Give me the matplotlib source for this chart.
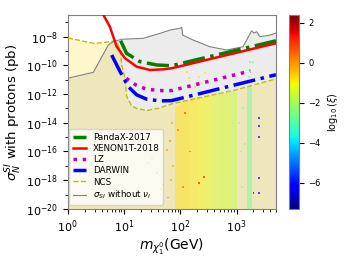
import numpy as np
import matplotlib
matplotlib.use('Agg')
import matplotlib.pyplot as plt
from matplotlib.colors import Normalize
from matplotlib.cm import ScalarMappable

# limit curves: mass in GeV, cross section as log10(sigma / pb)
pandax_m = [8.7, 11.1, 19.3, 38, 70, 5000]
pandax_s = [-8.29, -9.17, -9.75, -9.98, -10.03, -8.3]

xenon_m = [4.0, 4.3, 5.6, 7.4, 10.4, 16.8, 29, 50, 70, 5000]
xenon_s = [-6.2, -6.5, -7.32, -8.7, -9.51, -10.1, -10.33, -10.28, -10.21, -8.47]

lz_m = [11, 13.7, 16.8, 25.3, 43.6, 70, 1750]
lz_s = [-10.9, -11.2, -11.4, -11.67, -11.76, -11.76, -10.4]

darwin_m = [6.04, 8.5, 11.9, 16.8, 25.3, 43.6, 70, 5000]
darwin_s = [-9.29, -10.44, -11.49, -12.06, -12.36, -12.48, -12.46, -10.66]

ncs_m = [1, 2.85, 4.3, 6.9, 7.9, 8.6, 9.1, 10.4, 11.1, 13.7, 16.8, 25, 40, 70, 1000, 5000]
ncs_s = [-8.1, -8.47, -8.43, -8.3, -8.6, -9.0, -10.0, -10.9, -12.15, -12.84, -13.0, -13.15,
         -13.0, -12.69, -11.7, -10.95]

nonu_m = [1, 2.85, 5.26, 6.46, 9.1, 22, 43.6, 65.6, 98.8, 106, 110, 168, 337, 667, 1300,
          1513, 1853, 2037, 2276, 2606, 3918, 5000]
nonu_s = [-10.9, -10.49, -8.59, -8.36, -8.19, -8.125, -7.78, -7.55, -7.43, -7.36, -7.9,
          -8.24, -8.71, -8.94, -8.71, -8.24, -7.6, -7.76, -7.67, -8.01, -7.9, -7.76]

# dense scan points, drawn as columns: edges in GeV, top log10(sigma), log10(xi)
cloud_left = [80, 100, 140, 200, 280, 400, 560, 800, 1550]
cloud_right = [100, 140, 200, 280, 400, 560, 800, 1000, 1850]
cloud_top = [-12.8, -12.5, -12.3, -12.2, -12.1, -12.0, -11.9, -11.8, -11.5]
cloud_xi = [-0.8, -0.8, -0.9, -1.0, -1.2, -1.4, -1.5, -1.7, -2.7]

# sparse scan points: mass, log10(sigma), log10(xi)
pts_m = [27, 31, 39, 46, 50, 57, 65, 60, 70, 75, 68,
         260, 215, 120, 90, 150, 110,
         2500, 2500, 2500, 2500, 2500, 2000,
         1100, 1200, 1300, 1250, 1400,
         1700, 1750, 1650, 1800, 1950,
         131, 141, 212, 243, 278, 184]
pts_s = [-16.8, -16.5, -17.5, -18.6, -18.3, -15.9, -15.3, -19.2, -14.0, -17.0, -18.0,
         -17.8, -18.2, -13.3, -14.5, -16.0, -18.5,
         -13.7, -14.2, -15.0, -17.85, -18.9, -18.9,
         -14.0, -16.0, -13.0, -18.5, -15.5,
         -9.8, -10.3, -10.8, -11.2, -9.75,
         -10.45, -10.9, -10.8, -11.2, -10.55, -11.5]
pts_xi = [0.0, 0.0, 0.2, 0.0, 0.1, -0.2, 0.0, 0.2, -0.3, -0.4, -0.3,
          1.3, 1.2, 0.8, 0.3, 0.4, 0.3,
          -6.0, -6.0, -6.0, -6.0, -6.0, -6.0,
          -2.0, -2.0, -2.2, -2.0, -2.1,
          -2.5, -2.5, -2.6, -2.5, -2.5,
          -0.8, -0.8, -0.9, -0.9, -1.0, -0.8]

cmap = plt.get_cmap('jet')
norm = Normalize(vmin=-7.3, vmax=2.4)


def p(v):
    return 10 ** np.array(v, dtype=float)


fig = plt.figure(figsize=(3.44, 2.58), dpi=100)
ax = fig.add_axes([0.197, 0.19, 0.605, 0.752])
cax = fig.add_axes([0.839, 0.19, 0.029, 0.752])

# excluded regions
ax.fill_between(nonu_m, p(nonu_s), 1e-20, color='gray', alpha=0.15, lw=0, zorder=1)
ax.fill_between(ncs_m, p(ncs_s), 1e-20, color='gold', alpha=0.2, lw=0, zorder=1)

# scan points
for l, r, t, v in zip(cloud_left, cloud_right, cloud_top, cloud_xi):
    ax.bar(l, 10 ** t - 1e-20, width=r - l, bottom=1e-20, align='edge',
           color=cmap(norm(v)), alpha=0.45, lw=0, zorder=2)
ax.scatter(pts_m, p(pts_s), c=pts_xi, cmap=cmap, norm=norm, marker='s', s=2,
           lw=0, alpha=0.7, zorder=2)

ax.plot(pandax_m, p(pandax_s), 'g-.', lw=2.5, label='PandaX-2017', zorder=4)
ax.plot(xenon_m, p(xenon_s), 'r-', lw=1.8, label='XENON1T-2018', zorder=4)
ax.plot(lz_m, p(lz_s), 'm:', lw=2.5, label='LZ', zorder=4)
ax.plot(darwin_m, p(darwin_s), 'b-.', lw=2.5, label='DARWIN', zorder=4)
ax.plot(ncs_m, p(ncs_s), 'y--', lw=1.0, label='NCS', zorder=3)
ax.plot(nonu_m, p(nonu_s), '-', color='gray', lw=0.8,
        label=r'$\sigma_{SI}$ without $\nu_l$', zorder=3)

ax.set_xscale('log')
ax.set_yscale('log')
ax.set_xlim(1, 5000)
ax.set_ylim(1e-20, 10 ** -6.5)
ax.set_yticks([10.0 ** e for e in range(-20, -7, 2)])
ax.set_yticks([10.0 ** e for e in range(-19, -6, 2)], minor=True)
ax.set_yticklabels([], minor=True)
ax.tick_params(labelsize=8)
for s in ax.spines.values():
    s.set_color('gray')
ax.set_xlabel(r'$m_{\chi_1^0}$(GeV)', fontsize=10, labelpad=1)
ax.set_ylabel(r'$\sigma_N^{SI}$ with protons (pb)', fontsize=9.5, labelpad=1)

ax.legend(loc='lower left', bbox_to_anchor=(0.006, 0.022), borderaxespad=0,
          fontsize=6.3, handlelength=1.5, labelspacing=0.25, borderpad=0.4)

cb = fig.colorbar(ScalarMappable(norm=norm, cmap=cmap), cax=cax)
cb.set_ticks([-6, -4, -2, 0, 2])
cb.ax.tick_params(labelsize=6)
cb.outline.set_edgecolor('gray')
cb.set_label(r'$\log_{10}(\xi)$', fontsize=7)

fig.savefig('out.png', dpi=100)
